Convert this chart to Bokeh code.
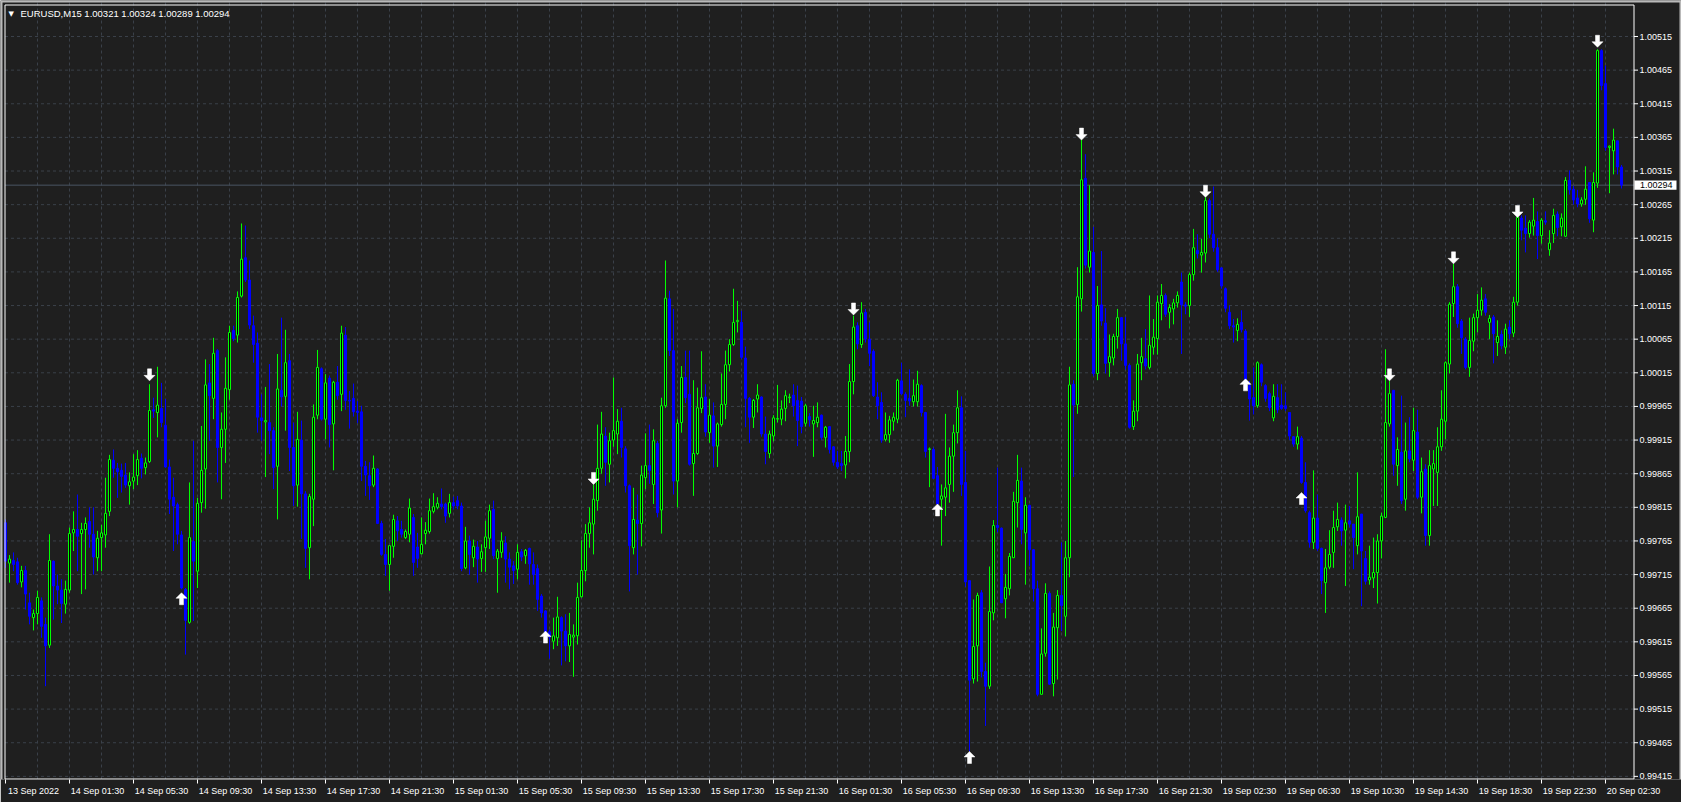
from bokeh.plotting import figure
from bokeh.models import FixedTicker, Label, ColumnDataSource, Range1d
from bokeh.embed import file_html
from bokeh.resources import INLINE

# ---------------- data (prices in points above 0.99000, 1 point = 0.00001) -------------
opens = [
    792, 732, 736, 734, 704, 721, 673, 651, 657, 676,
    641, 610, 735, 698, 692, 671, 692, 777, 782, 776,
    782, 794, 775, 740, 770, 774, 809, 885, 873, 870,
    863, 847, 854, 862, 888, 874, 883, 960, 956, 962,
    937, 875, 830, 819, 774, 693, 644, 764, 720, 822,
    872, 1000, 977, 1048, 904, 931, 990, 1078, 1071, 1129,
    1186, 1153, 1085, 1059, 948, 942, 941, 929, 876, 989,
    980, 1033, 904, 848, 915, 835, 755, 827, 952, 1021,
    946, 1007, 939, 1001, 983, 1071, 974, 977, 958, 957,
    876, 862, 848, 872, 791, 745, 730, 757, 795, 782,
    770, 775, 800, 756, 746, 776, 779, 809, 815, 820,
    820, 806, 822, 825, 817, 725, 765, 740, 756, 739,
    755, 769, 812, 739, 748, 762, 738, 728, 723, 749,
    743, 754, 730, 724, 683, 661, 630, 616, 621, 651,
    631, 609, 622, 624, 682, 721, 776, 790, 825, 873,
    921, 879, 915, 924, 943, 902, 847, 755, 796, 791,
    859, 877, 849, 910, 811, 966, 1125, 1048, 854, 941,
    1008, 983, 880, 895, 962, 979, 926, 951, 906, 938,
    968, 1027, 1057, 1091, 1090, 1037, 977, 949, 976, 979,
    924, 895, 921, 946, 946, 962, 978, 982, 974, 973,
    940, 950, 939, 941, 952, 919, 935, 905, 882, 880,
    878, 898, 1002, 1085, 1057, 1105, 1065, 1047, 979, 971,
    916, 923, 943, 946, 1003, 983, 977, 972, 972, 996,
    956, 901, 901, 862, 827, 830, 849, 891, 926, 963,
    852, 706, 560, 609, 688, 571, 549, 658, 788, 784,
    679, 694, 740, 822, 854, 777, 818, 752, 694, 537,
    598, 687, 553, 636, 684, 653, 740, 998, 968, 1125,
    1304, 1172, 1194, 1014, 1116, 1089, 1030, 1037, 1069, 1097,
    1058, 1026, 935, 958, 1030, 1036, 1023, 1053, 1066, 1118,
    1130, 1105, 1110, 1119, 1150, 1116, 1115, 1161, 1197, 1190,
    1193, 1271, 1221, 1201, 1171, 1140, 1105, 1085, 1078, 1090,
    1077, 996, 978, 966, 1027, 996, 984, 948, 978, 967,
    966, 956, 920, 909, 918, 852, 807, 763, 799, 754,
    703, 726, 748, 786, 796, 781, 795, 790, 758, 805,
    739, 707, 710, 718, 765, 800, 939, 989, 877, 897,
    827, 899, 885, 927, 830, 872, 773, 872, 867, 905,
    943, 1028, 1118, 1143, 1092, 1065, 1023, 1062, 1097, 1108,
    1125, 1090, 1098, 1060, 1072, 1053, 1083, 1074, 1120, 1245,
    1230, 1222, 1233, 1240, 1219, 1241, 1198, 1222, 1251, 1232,
    1218, 1301, 1288, 1275, 1266, 1273, 1298, 1242, 1297, 1494,
    1445, 1350, 1345, 1360, 1321,
]
highs = [
    797, 744, 748, 740, 728, 728, 688, 663, 691, 681,
    651, 775, 736, 715, 708, 706, 785, 809, 834, 792,
    800, 815, 815, 780, 789, 859, 893, 901, 881, 880,
    881, 867, 894, 900, 895, 889, 998, 978, 1024, 1000,
    976, 886, 859, 822, 780, 695, 852, 914, 829, 936,
    1035, 1028, 1067, 1050, 956, 1038, 1085, 1085, 1136, 1237,
    1234, 1182, 1100, 1075, 983, 994, 1028, 934, 1043, 1097,
    1079, 1043, 941, 957, 944, 839, 835, 968, 1049, 1023,
    1013, 1011, 1003, 1025, 1085, 1083, 988, 999, 973, 966,
    884, 882, 892, 873, 795, 768, 758, 804, 802, 795,
    782, 828, 805, 777, 800, 793, 828, 836, 830, 843,
    822, 835, 831, 832, 822, 786, 773, 767, 765, 760,
    795, 819, 825, 753, 778, 772, 748, 735, 760, 753,
    753, 755, 748, 730, 686, 662, 633, 651, 682, 653,
    656, 658, 641, 703, 766, 790, 815, 849, 938, 957,
    934, 926, 1008, 961, 963, 906, 849, 844, 834, 877,
    925, 938, 931, 914, 978, 1182, 1137, 1110, 946, 1025,
    1048, 1048, 1004, 993, 1047, 998, 976, 971, 941, 1014,
    1048, 1065, 1140, 1122, 1107, 1054, 979, 976, 998, 980,
    950, 929, 952, 997, 974, 989, 984, 998, 996, 979,
    969, 955, 966, 971, 953, 936, 936, 906, 899, 899,
    921, 1028, 1100, 1090, 1120, 1110, 1090, 1050, 1001, 986,
    956, 951, 956, 1006, 1030, 986, 1020, 1005, 1018, 998,
    957, 904, 904, 875, 849, 954, 904, 938, 989, 980,
    899, 706, 678, 688, 692, 584, 727, 796, 874, 785,
    716, 747, 838, 893, 874, 830, 819, 753, 706, 635,
    702, 690, 658, 692, 763, 765, 1024, 1004, 1172, 1362,
    1340, 1294, 1232, 1144, 1196, 1111, 1072, 1073, 1110, 1098,
    1098, 1029, 974, 1043, 1067, 1080, 1130, 1095, 1130, 1147,
    1133, 1117, 1125, 1136, 1164, 1120, 1164, 1229, 1221, 1214,
    1276, 1274, 1292, 1215, 1172, 1142, 1115, 1095, 1096, 1108,
    1080, 1003, 1023, 1032, 1029, 998, 987, 998, 998, 998,
    986, 956, 921, 935, 921, 882, 810, 870, 834, 755,
    753, 781, 810, 822, 800, 819, 817, 790, 867, 805,
    750, 758, 770, 775, 807, 1050, 1003, 989, 919, 981,
    941, 949, 963, 960, 889, 879, 900, 900, 934, 989,
    1032, 1120, 1177, 1147, 1095, 1068, 1097, 1103, 1132, 1142,
    1132, 1101, 1101, 1093, 1078, 1088, 1093, 1128, 1246, 1249,
    1249, 1242, 1275, 1255, 1245, 1255, 1227, 1259, 1255, 1252,
    1306, 1316, 1293, 1287, 1276, 1322, 1298, 1313, 1496, 1496,
    1472, 1353, 1378, 1360, 1324,
]
lows = [
    725, 703, 720, 700, 696, 663, 641, 632, 641, 621,
    549, 606, 648, 671, 643, 657, 688, 750, 720, 686,
    693, 755, 715, 720, 720, 755, 802, 859, 829, 837,
    844, 819, 842, 848, 858, 864, 881, 948, 919, 934,
    874, 805, 750, 760, 693, 596, 642, 646, 695, 807,
    813, 914, 946, 852, 827, 881, 975, 1062, 1060, 1127,
    1150, 1080, 1030, 926, 914, 860, 894, 842, 797, 965,
    929, 869, 817, 816, 768, 725, 708, 787, 946, 944,
    916, 904, 870, 975, 958, 960, 932, 950, 940, 854,
    832, 826, 845, 790, 743, 713, 691, 740, 765, 770,
    768, 763, 713, 725, 745, 760, 776, 806, 812, 812,
    792, 800, 812, 812, 720, 723, 715, 726, 703, 719,
    719, 753, 738, 688, 740, 703, 693, 701, 708, 735,
    731, 700, 700, 661, 651, 625, 590, 604, 609, 580,
    586, 585, 563, 611, 681, 705, 755, 745, 810, 865,
    847, 852, 905, 894, 889, 837, 690, 745, 715, 757,
    842, 850, 820, 800, 776, 963, 1040, 834, 815, 926,
    970, 877, 832, 893, 955, 920, 911, 874, 875, 935,
    946, 1017, 1055, 1075, 1035, 934, 911, 933, 956, 920,
    879, 888, 913, 941, 937, 943, 970, 950, 906, 925,
    935, 935, 890, 934, 915, 904, 895, 877, 872, 869,
    858, 882, 983, 1050, 1052, 1060, 1025, 979, 946, 911,
    913, 911, 929, 940, 982, 949, 966, 965, 965, 950,
    889, 845, 857, 815, 758, 802, 822, 838, 910, 832,
    697, 452, 553, 556, 562, 490, 545, 647, 778, 673,
    650, 684, 740, 785, 760, 700, 728, 675, 534, 537,
    593, 551, 534, 559, 631, 623, 711, 860, 954, 1106,
    1170, 1164, 1010, 1004, 1085, 1014, 1009, 1026, 1051, 1033,
    1020, 932, 930, 943, 1004, 1020, 1020, 1042, 1042, 1093,
    1098, 1081, 1087, 1112, 1043, 1102, 1098, 1152, 1185, 1164,
    1179, 1215, 1195, 1165, 1140, 1105, 1080, 1060, 1062, 1075,
    998, 944, 953, 963, 995, 972, 958, 943, 955, 960,
    958, 915, 905, 901, 850, 807, 755, 753, 750, 686,
    658, 723, 725, 780, 758, 698, 785, 723, 745, 668,
    700, 700, 695, 672, 739, 799, 935, 862, 847, 820,
    810, 882, 869, 827, 806, 758, 758, 817, 817, 899,
    916, 1014, 1098, 1082, 1043, 1020, 1009, 1047, 1075, 1100,
    1100, 1065, 1029, 1040, 1050, 1043, 1065, 1068, 1115, 1212,
    1194, 1216, 1219, 1184, 1207, 1235, 1189, 1208, 1218, 1218,
    1217, 1280, 1265, 1261, 1262, 1265, 1238, 1224, 1290, 1435,
    1345, 1282, 1310, 1310, 1289,
]
closes = [
    735, 738, 730, 703, 721, 686, 653, 657, 681, 638,
    609, 736, 698, 692, 672, 693, 776, 782, 772, 782,
    791, 775, 741, 769, 777, 806, 886, 873, 868, 861,
    848, 853, 860, 886, 873, 881, 959, 958, 967, 941,
    875, 827, 817, 775, 695, 647, 770, 735, 821, 870,
    997, 981, 1044, 904, 931, 992, 1075, 1066, 1127, 1184,
    1153, 1086, 1057, 949, 944, 944, 929, 874, 991, 979,
    1030, 904, 847, 916, 835, 754, 831, 949, 1023, 946,
    1000, 938, 1001, 981, 1074, 974, 973, 957, 956, 876,
    863, 847, 873, 791, 745, 730, 758, 797, 780, 775,
    779, 814, 733, 739, 760, 781, 810, 816, 821, 816,
    802, 822, 817, 817, 724, 765, 745, 757, 738, 749,
    771, 810, 743, 750, 765, 738, 726, 721, 748, 741,
    751, 731, 715, 678, 658, 630, 622, 624, 652, 631,
    609, 626, 625, 681, 721, 776, 792, 827, 873, 924,
    882, 914, 929, 943, 904, 847, 758, 797, 791, 863,
    877, 870, 914, 807, 966, 1126, 1048, 854, 940, 1008,
    978, 879, 895, 963, 978, 927, 952, 906, 939, 968,
    1027, 1057, 1090, 1093, 1038, 977, 949, 974, 982, 924,
    898, 924, 948, 947, 961, 981, 979, 966, 944, 935,
    966, 945, 944, 949, 919, 934, 901, 882, 875, 877,
    898, 1002, 1083, 1058, 1104, 1065, 1044, 981, 966, 915,
    923, 945, 949, 1004, 984, 974, 973, 981, 998, 956,
    898, 902, 858, 820, 832, 844, 891, 926, 963, 849,
    704, 558, 608, 684, 571, 549, 660, 788, 785, 673,
    696, 742, 824, 855, 782, 818, 752, 694, 537, 597,
    687, 552, 637, 684, 669, 740, 997, 967, 1128, 1302,
    1175, 1196, 1014, 1115, 1092, 1029, 1039, 1069, 1097, 1058,
    1026, 934, 958, 1028, 1039, 1025, 1056, 1068, 1120, 1130,
    1102, 1112, 1119, 1130, 1116, 1114, 1161, 1201, 1192, 1194,
    1271, 1221, 1201, 1168, 1144, 1111, 1085, 1083, 1087, 1079,
    1003, 976, 966, 1030, 1001, 977, 963, 980, 960, 962,
    962, 921, 909, 920, 852, 810, 763, 799, 754, 706,
    725, 745, 785, 797, 780, 792, 790, 770, 801, 750,
    705, 711, 718, 765, 802, 941, 984, 879, 901, 825,
    899, 887, 929, 830, 868, 773, 877, 880, 905, 946,
    1030, 1117, 1143, 1088, 1067, 1023, 1063, 1097, 1108, 1123,
    1105, 1096, 1073, 1069, 1055, 1080, 1073, 1120, 1246, 1227,
    1222, 1239, 1242, 1219, 1242, 1239, 1208, 1249, 1231, 1245,
    1301, 1287, 1272, 1266, 1272, 1288, 1244, 1298, 1494, 1442,
    1350, 1352, 1361, 1321, 1294,
]
POINT_BASE = 0.99
POINT = 0.00001

# signal arrows: bar index and price (points) of the arrow tip
up_idx = [44, 135, 233, 241, 310, 324]
up_tip = [688, 631, 820, 452, 1006, 837]
down_idx = [36, 147, 212, 269, 300, 346, 362, 378, 398]
down_tip = [1003, 849, 1101, 1361, 1276, 1003, 1177, 1246, 1499]

time_labels = ["13 Sep 2022", "14 Sep 01:30", "14 Sep 05:30", "14 Sep 09:30", "14 Sep 13:30",
               "14 Sep 17:30", "14 Sep 21:30", "15 Sep 01:30", "15 Sep 05:30", "15 Sep 09:30",
               "15 Sep 13:30", "15 Sep 17:30", "15 Sep 21:30", "16 Sep 01:30", "16 Sep 05:30",
               "16 Sep 09:30", "16 Sep 13:30", "16 Sep 17:30", "16 Sep 21:30", "19 Sep 02:30",
               "19 Sep 06:30", "19 Sep 10:30", "19 Sep 14:30", "19 Sep 18:30", "19 Sep 22:30",
               "20 Sep 02:30"]
BARS_PER_LABEL = 16
price_ticks = [0.99415, 0.99465, 0.99515, 0.99565, 0.99615, 0.99665, 0.99715, 0.99765,
               0.99815, 0.99865, 0.99915, 0.99965, 1.00015, 1.00065, 1.00115, 1.00165,
               1.00215, 1.00265, 1.00315, 1.00365, 1.00415, 1.00465, 1.00515]
current_price = 1.00294
title_text = "EURUSD,M15  1.00321 1.00324 1.00289 1.00294"

# ---------------- layout (frame covers the whole canvas except the time axis) ----------------
W, H = 1681, 802
FRAME_H = 779
PX_PER_BAR = 4.0
PRICE_PER_PX = 0.0005 / 33.63
x_start = -1.25                          # first bar centre ~5 px from the left edge
x_end = x_start + W / PX_PER_BAR
y_top = 1.00515 + 36 * PRICE_PER_PX      # 1.00515 sits 36 px below the top
y_bot = y_top - FRAME_H * PRICE_PER_PX

def bx(px):   # page x (px) -> bar coordinate
    return x_start + px / PX_PER_BAR

def py(px):   # page y (px) -> price coordinate
    return y_top - px * PRICE_PER_PX

BORDER_L, BORDER_R = bx(4.5), bx(1633.5)
BORDER_T, BORDER_B = py(4.5), py(778.5)

BG = "#1f1f1f"
BULL = "#00ff00"
BEAR = "#0000ff"
TXT = "#ffffff"
FONT = "Liberation Sans"
GRID = "#3a4049"
EDGE = "#b9b9b9"

p = figure(frame_width=W, frame_height=FRAME_H,
           x_range=Range1d(x_start, x_end), y_range=Range1d(y_bot, y_top),
           y_axis_location=None, toolbar_location=None, output_backend="svg",
           min_border_left=0, min_border_top=0, min_border_right=0, min_border_bottom=H - FRAME_H)
p.background_fill_color = BG
p.border_fill_color = BG
p.outline_line_color = None
p.ygrid.visible = False

# thin light window edge (top, left, right)
p.quad(left=[x_start, x_start, bx(W - 2)], right=[x_end, bx(2), x_end],
       top=[y_top, y_top, y_top], bottom=[py(2), y_bot, y_bot],
       fill_color=EDGE, line_color=None)

# vertical grid every 8 bars
p.xgrid.ticker = FixedTicker(ticks=list(range(8, len(opens), 8)))
p.xgrid.grid_line_color = GRID
p.xgrid.grid_line_dash = "3 3"

# horizontal grid at the price ticks, inside the chart box
p.segment(x0=[BORDER_L] * len(price_ticks), x1=[BORDER_R] * len(price_ticks),
          y0=price_ticks, y1=price_ticks, line_color=GRID, line_dash="3 3", line_width=1)

# current price line
p.segment(x0=[BORDER_L], x1=[BORDER_R], y0=[current_price], y1=[current_price],
          line_color="#4a5563", line_width=1)

# candles
idx = list(range(len(opens)))
o = [POINT_BASE + v * POINT for v in opens]
h = [POINT_BASE + v * POINT for v in highs]
l = [POINT_BASE + v * POINT for v in lows]
c = [POINT_BASE + v * POINT for v in closes]
bull = [cc >= oo for oo, cc in zip(o, c)]
src = ColumnDataSource(dict(
    x=idx, high=h, low=l,
    top=[max(a, b) for a, b in zip(o, c)],
    bottom=[min(a, b) for a, b in zip(o, c)],
    color=[BULL if b else BEAR for b in bull],
    fill=["#000000" if b else BEAR for b in bull],
))
p.segment(x0="x", y0="low", x1="x", y1="high", source=src, line_color="color", line_width=1)
p.vbar(x="x", top="top", bottom="bottom", width=0.5, source=src,
       fill_color="fill", line_color="color", line_width=1)

# arrows (shape in screen px, tip at the given price)
shape = [(0, 0), (5.5, 5.5), (2, 5.5), (2, 12), (-2, 12), (-2, 5.5), (-5.5, 5.5)]
axs, ays = [], []
for k, tip in zip(up_idx, up_tip):
    ty = POINT_BASE + tip * POINT
    axs.append([k + dx / PX_PER_BAR for dx, dy in shape])
    ays.append([ty - dy * PRICE_PER_PX for dx, dy in shape])
for k, tip in zip(down_idx, down_tip):
    ty = POINT_BASE + tip * POINT
    axs.append([k + dx / PX_PER_BAR for dx, dy in shape])
    ays.append([ty + dy * PRICE_PER_PX for dx, dy in shape])
p.patches(xs=axs, ys=ays, fill_color="white", line_color="white", line_width=0.5)

# chart box border
p.segment(x0=[BORDER_L, BORDER_L, BORDER_L, BORDER_R],
          x1=[BORDER_R, BORDER_R, BORDER_L, BORDER_R],
          y0=[BORDER_T, BORDER_B, BORDER_T, BORDER_T],
          y1=[BORDER_T, BORDER_B, BORDER_B, BORDER_B],
          line_color="white", line_width=1)

# price scale on the right
n = len(price_ticks)
p.segment(x0=[BORDER_R] * n, x1=[bx(1637.5)] * n, y0=price_ticks, y1=price_ticks,
          line_color="white", line_width=1)
p.text(x=[bx(1639)] * n, y=price_ticks, text=["%.5f" % v for v in price_ticks],
       text_color=TXT, text_font={"value": FONT}, text_font_size="9px",
       text_baseline="middle", text_align="left")

# current price tag
p.quad(left=[bx(1634)], right=[bx(1676)], top=[current_price + 4.7 * PRICE_PER_PX],
       bottom=[current_price - 4.7 * PRICE_PER_PX], fill_color="white", line_color=None)
p.text(x=[bx(1639.5)], y=[current_price], text=["%.5f" % current_price], text_color="#000000",
       text_font={"value": FONT}, text_font_size="9px", text_baseline="middle", text_align="left")

# time axis: labels start at the tick mark (MT4 style)
tick_bars = [i * BARS_PER_LABEL for i in range(len(time_labels))]
label_pos = [t + 7 for t in tick_bars]
xa = p.xaxis[0]
xa.ticker = FixedTicker(ticks=label_pos, minor_ticks=tick_bars)
xa.major_label_overrides = {pos: lab for pos, lab in zip(label_pos, time_labels)}
xa.major_tick_line_color = None
xa.major_tick_out = 4
xa.major_tick_in = 0
xa.minor_tick_line_color = "white"
xa.minor_tick_out = 4
xa.minor_tick_in = 0
xa.major_label_standoff = 2
xa.axis_line_color = None
xa.major_label_text_color = TXT
xa.major_label_text_font = FONT
xa.major_label_text_font_size = "9px"

# header
p.add_layout(Label(x=x_start, y=y_top, x_offset=8, y_offset=-9, text="\u25BC",
                   text_baseline="top", text_color="white", text_font="DejaVu Sans",
                   text_font_size="7px"))
p.add_layout(Label(x=x_start, y=y_top, x_offset=20, y_offset=-7, text=title_text,
                   text_baseline="top", text_color="white", text_font=FONT,
                   text_font_size="9.5px"))

open("out.html", "w").write(file_html(p, INLINE))
